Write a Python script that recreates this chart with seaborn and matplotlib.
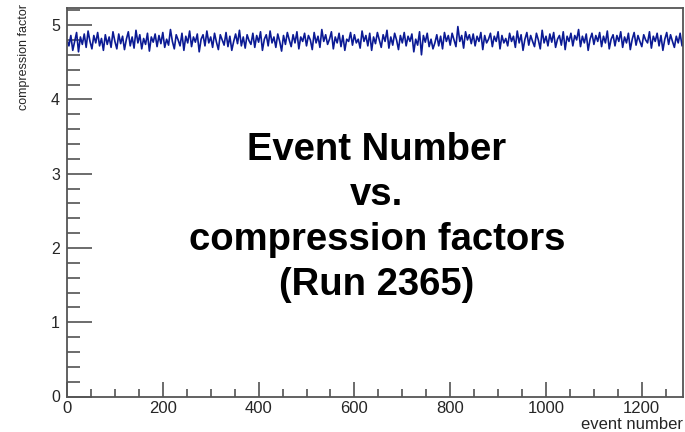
import numpy as np
import pandas as pd
import matplotlib
matplotlib.use('Agg')
import matplotlib.pyplot as plt
import seaborn as sns
from matplotlib.ticker import MultipleLocator

# compression factor, read roughly every 4th event from the reference
event_step = 4
compression = [
    4.80, 4.72, 4.86, 4.66, 4.78, 4.90, 4.64, 4.84, 4.74, 4.88, 4.70, 4.92, 4.78, 4.68, 4.86, 4.76, 4.90, 4.72, 4.82, 4.66, 4.87, 4.74, 4.84, 4.70, 4.91,
    4.78, 4.68, 4.88, 4.75, 4.85, 4.67, 4.81, 4.91, 4.72, 4.84, 4.69, 4.93, 4.76, 4.87, 4.68, 4.82, 4.74, 4.89, 4.65, 4.84, 4.77, 4.88, 4.71, 4.86, 4.75,
    4.90, 4.70, 4.81, 4.73, 4.94, 4.78, 4.68, 4.87, 4.80, 4.72, 4.89, 4.66, 4.85, 4.76, 4.92, 4.71, 4.84, 4.77, 4.88, 4.64, 4.81, 4.87, 4.72, 4.92, 4.76,
    4.84, 4.70, 4.89, 4.77, 4.67, 4.87, 4.80, 4.73, 4.90, 4.71, 4.85, 4.66, 4.78, 4.88, 4.75, 4.93, 4.72, 4.84, 4.69, 4.87, 4.79, 4.74, 4.89, 4.70, 4.86,
    4.77, 4.91, 4.66, 4.81, 4.87, 4.72, 4.92, 4.76, 4.84, 4.70, 4.88, 4.78, 4.65, 4.86, 4.74, 4.90, 4.80, 4.71, 4.87, 4.76, 4.91, 4.68, 4.84, 4.78, 4.89,
    4.72, 4.86, 4.80, 4.67, 4.90, 4.76, 4.85, 4.70, 4.94, 4.78, 4.87, 4.74, 4.81, 4.91, 4.68, 4.84, 4.76, 4.89, 4.71, 4.86, 4.66, 4.81, 4.78, 4.90, 4.73,
    4.87, 4.76, 4.81, 4.69, 4.92, 4.78, 4.86, 4.72, 4.89, 4.66, 4.84, 4.75, 4.90, 4.80, 4.70, 4.87, 4.78, 4.93, 4.69, 4.84, 4.73, 4.89, 4.80, 4.67, 4.86,
    4.76, 4.90, 4.72, 4.85, 4.78, 4.88, 4.64, 4.81, 4.73, 4.91, 4.60, 4.86, 4.77, 4.89, 4.71, 4.81, 4.68, 4.76, 4.87, 4.72, 4.85, 4.68, 4.90, 4.78, 4.86,
    4.73, 4.89, 4.80, 4.71, 4.98, 4.78, 4.86, 4.69, 4.91, 4.80, 4.87, 4.75, 4.88, 4.72, 4.85, 4.78, 4.90, 4.67, 4.86, 4.76, 4.81, 4.89, 4.71, 4.85, 4.78,
    4.91, 4.68, 4.86, 4.76, 4.82, 4.72, 4.89, 4.78, 4.85, 4.70, 4.92, 4.76, 4.87, 4.66, 4.81, 4.90, 4.73, 4.86, 4.78, 4.71, 4.89, 4.80, 4.68, 4.93, 4.76,
    4.85, 4.72, 4.88, 4.77, 4.90, 4.70, 4.81, 4.86, 4.73, 4.91, 4.67, 4.85, 4.78, 4.89, 4.72, 4.86, 4.80, 4.94, 4.71, 4.85, 4.76, 4.88, 4.66, 4.81, 4.89,
    4.74, 4.86, 4.78, 4.90, 4.71, 4.85, 4.76, 4.92, 4.68, 4.81, 4.87, 4.72, 4.86, 4.78, 4.91, 4.70, 4.84, 4.76, 4.89, 4.67, 4.81, 4.90, 4.73, 4.86, 4.78,
    4.71, 4.87, 4.80, 4.76, 4.91, 4.69, 4.85, 4.78, 4.89, 4.72, 4.86, 4.66, 4.81, 4.90, 4.74, 4.87, 4.78, 4.70, 4.85, 4.76, 4.89, 4.72, 4.81, 4.74, 4.86,
]
events = np.arange(len(compression)) * event_step

title_lines = ["Event Number", "vs.", "compression factors", "(Run 2365)"]

df = pd.DataFrame({"event": events, "cf": compression})

sns.set_style("white")
plt.rcParams['font.family'] = ['Liberation Sans', 'DejaVu Sans']

fig = plt.figure(figsize=(6.85, 4.32), dpi=100)
ax = fig.add_axes([67 / 685, 1 - 396.5 / 432, (683 - 67) / 685, (396.5 - 8) / 432])

sns.lineplot(data=df, x="event", y="cf", ax=ax, color="#0b1a94", linewidth=1.2)

ax.set_xlim(0, 1286)
ax.set_ylim(0, 5.23)

ax.xaxis.set_major_locator(MultipleLocator(200))
ax.xaxis.set_minor_locator(MultipleLocator(50))
ax.yaxis.set_major_locator(MultipleLocator(1))
ax.yaxis.set_minor_locator(MultipleLocator(0.2))

ax.tick_params(axis="x", which="major", direction="in", length=11, width=1.1,
               color="#444444", labelsize=12, pad=3, bottom=True)
ax.tick_params(axis="x", which="minor", direction="in", length=6, width=1.1,
               color="#444444", bottom=True)
ax.tick_params(axis="y", which="major", direction="in", length=18, width=1.1,
               color="#444444", labelsize=11.5, pad=5, left=True)
ax.tick_params(axis="y", which="minor", direction="in", length=9, width=1.1,
               color="#444444", left=True)

for sp in ax.spines.values():
    sp.set_color("#555555")
    sp.set_linewidth(1.3)

ax.set_xlabel("event number", fontsize=12, ha="right", x=1.0, labelpad=1)
ax.set_ylabel("compression factor", fontsize=9, ha="right", y=1.01, labelpad=15)

ax.text(0.503, 0.46, "\n".join(title_lines), transform=ax.transAxes,
        ha="center", va="center", fontsize=27.5, fontweight="bold",
        linespacing=1.32, color="black")

fig.savefig("out.png", dpi=100)
